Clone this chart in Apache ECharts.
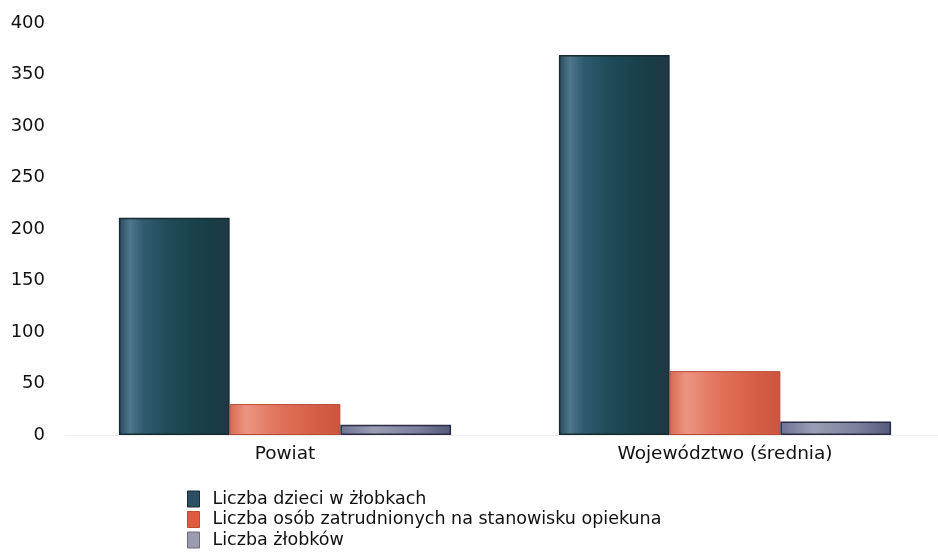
<!DOCTYPE html>
<html>
<head>
<meta charset="utf-8">
<script src="https://cdn.jsdelivr.net/npm/echarts@6/dist/echarts.min.js"></script>
<style>
  html, body { margin: 0; padding: 0; background: #fff; }
  #chart { width: 938px; height: 558px; }
</style>
</head>
<body>
<div id="chart"></div>
<script>
const categories = ['Powiat', 'Województwo (średnia)'];
const seriesNames = [
  'Liczba dzieci w żłobkach',
  'Liczba osób zatrudnionych na stanowisku opiekuna',
  'Liczba żłobków'
];
const dzieci = [211, 369];
const opiekunowie = [30, 62];
const zlobki = [10, 13];
const yTicks = [0, 50, 100, 150, 200, 250, 300, 350, 400];

const chart = echarts.init(document.getElementById('chart'));

function grad(stops) {
  return new echarts.graphic.LinearGradient(0, 0, 1, 0,
    stops.map(s => ({ offset: s[0], color: s[1] })));
}

const blueFill = grad([[0, '#284a5e'], [0.1, '#4f778c'], [0.22, '#2f5b70'], [0.45, '#1f4b58'], [0.65, '#1a434d'], [0.85, '#193c47'], [1, '#1f3844']]);
const orangeFill = grad([[0, '#d96a52'], [0.15, '#ec9582'], [0.4, '#e2765e'], [0.7, '#d9624a'], [1, '#cc5540']]);
const grayFill = grad([[0, '#6f7394'], [0.3, '#9a9db4'], [0.7, '#7b7f9c'], [1, '#55597a']]);

const font = 'DejaVu Sans';

const option = {
  backgroundColor: '#ffffff',
  animation: false,
  grid: { left: 65, width: 880, top: 23, bottom: 123, outerBoundsMode: 'none' },
  legend: {
    orient: 'vertical',
    left: 182,
    top: 485,
    itemWidth: 12,
    itemHeight: 16,
    itemGap: 2.5,
    icon: 'rect',
    textStyle: { fontFamily: font, fontSize: 17.5, color: '#111', padding: [0, 0, 0, 8] },
    data: [
      { name: seriesNames[0], itemStyle: { color: '#2c4f66', borderColor: '#1a2a33', borderWidth: 1 } },
      { name: seriesNames[1], itemStyle: { color: '#e05a3e', borderColor: '#c04a30', borderWidth: 1 } },
      { name: seriesNames[2], itemStyle: { color: '#9c9cb0', borderColor: '#6a6a80', borderWidth: 1 } }
    ]
  },
  xAxis: {
    type: 'category',
    data: categories,
    axisLine: { show: true, lineStyle: { color: '#eeeeee', width: 1 } },
    axisTick: { show: false },
    axisLabel: { fontFamily: font, fontSize: 18.5, color: '#111', margin: 10 }
  },
  yAxis: {
    type: 'value',
    min: 0,
    max: 400,
    interval: 50,
    splitLine: { show: false },
    axisLine: { show: false },
    axisTick: { show: false },
    axisLabel: { fontFamily: font, fontSize: 18, color: '#111', margin: 20 }
  },
  series: [
    {
      name: seriesNames[0], type: 'bar', data: dzieci,
      barGap: '0%', barCategoryGap: '24.5%',
      itemStyle: { color: blueFill, borderColor: '#172a30', borderWidth: 1.5 }
    },
    {
      name: seriesNames[1], type: 'bar', data: opiekunowie,
      itemStyle: { color: orangeFill, borderColor: '#b84a35', borderWidth: 1 }
    },
    {
      name: seriesNames[2], type: 'bar', data: zlobki,
      itemStyle: { color: grayFill, borderColor: '#2a2d45', borderWidth: 1.5 }
    }
  ]
};

chart.setOption(option);
</script>
</body>
</html>
